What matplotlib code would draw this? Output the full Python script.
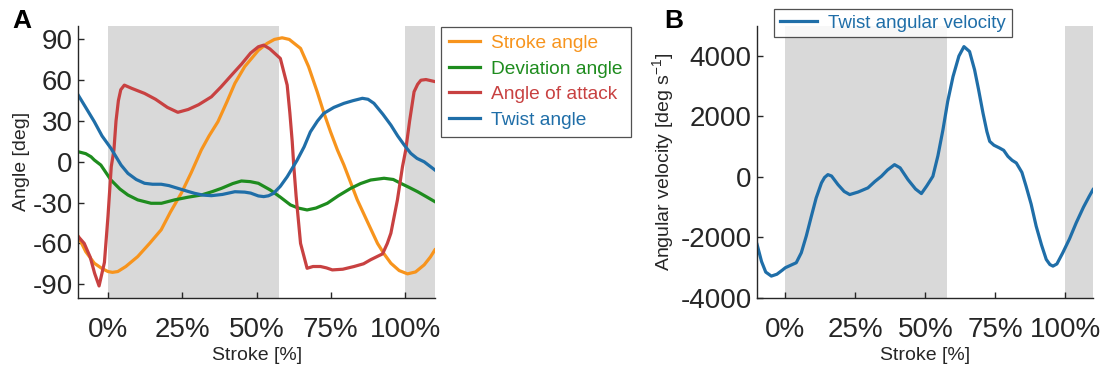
import matplotlib
matplotlib.use('Agg')
import matplotlib.pyplot as plt

plt.rcParams['font.family'] = ['Liberation Sans', 'DejaVu Sans']
plt.rcParams['axes.unicode_minus'] = False

# ---- data (stroke %, value) ----
stroke_x = [-10, -7.5, -4.6, -2, 0, 1.5, 3.3, 6, 10, 14, 17.9, 21, 24.7, 28, 31.4, 34, 37, 40,
            42.7, 46, 50.6, 53.5, 56, 58.6, 61, 64.8, 67.5, 70.4, 72.5, 74.9, 77.2, 79.4, 83.9,
            87.5, 90.7, 93, 95.2, 98, 100.8, 103.5, 106.4, 108.5, 110]
stroke_y = [-55, -66, -74.6, -78.5, -80.7, -81.3, -80.7, -77, -69.7, -60, -50, -37, -23, -8, 8.7,
            19, 29.5, 44, 57.7, 70, 82, 87, 90, 91.2, 90, 83.4, 70, 51.5, 37, 22, 8.7, -2.4, -28,
            -45, -60, -68, -74.6, -80, -82.4, -81, -75.8, -70, -64.8]

dev_x = [-10, -7.5, -5.7, -4.6, -2.4, 1, 4, 6.7, 10, 14.5, 18, 22.4, 27, 31.4, 35, 38.2, 42, 44.9,
         47.9, 50.6, 54.6, 58, 61.4, 64, 67, 70, 73.8, 77.5, 81.7, 85, 88.4, 92.9, 96, 98.5,
         101.5, 104.2, 107, 110]
dev_y = [7.4, 6, 3.7, 1.3, -2.4, -13.4, -20, -24.4, -28, -30.5, -30.5, -28, -26, -24.4, -22,
         -19.5, -16, -14.1, -14.6, -15.8, -20.7, -26, -31.7, -34, -35.4, -34, -30.5, -25, -19.5,
         -16, -13.4, -12.1, -13, -15.8, -19, -22, -25.5, -29.3]

aoa_x = [-10, -8, -6, -4.5, -3, -1.2, 0, 1.1, 2, 2.7, 3.5, 4.3, 5.5, 8, 12.3, 16, 20, 23.5, 27,
         30.5, 34.8, 38, 41.6, 45, 48, 50.6, 52.4, 54.5, 56.5, 58, 60.3, 61.2, 62, 62.5, 63.3,
         64.8, 67, 69, 71.5, 73.5, 75.5, 79, 82.8, 86, 88.4, 92.4, 94, 95.2, 97.4, 99.1, 100.2,
         101.5, 103, 104.2, 105.3, 107, 109, 110]
aoa_y = [-55, -60, -70, -82, -91.3, -74, -40, -3.6, 8.7, 30, 45, 53, 56.4, 54, 50.3, 46, 40, 36.4,
         38.5, 42, 47.8, 55, 63.8, 72, 80, 84.6, 85.8, 83, 79, 76, 56.4, 36, 14.8, -2.4, -25,
         -60, -78.3, -77, -77, -78, -79.5, -79, -77, -75, -72, -67.7, -60, -52.5, -28, -3.6,
         8.7, 30, 51.5, 57, 60, 60.5, 59.5, 59]

twist_x = [-10, -7.5, -4.6, -2, 1, 4.4, 6.7, 9.5, 12.3, 15, 17.9, 20.5, 23.5, 26.5, 29.2, 32,
           34.8, 38.5, 42.7, 46, 48, 50.6, 52.4, 54, 55.7, 58, 60.3, 63.6, 66, 68.1, 70.5, 72.6,
           76, 79.4, 82.5, 85.6, 87.5, 89.5, 92.5, 95.2, 97.5, 99.7, 101.9, 104, 106.4, 108.5, 110]
twist_y = [49, 40, 29.5, 19, 9.9, -2.4, -8.5, -13, -15.8, -16.5, -16.5, -17.5, -19.5, -21.5,
           -23.2, -24.5, -24.9, -24, -22, -22.3, -23, -25.1, -25.6, -25, -23.2, -18, -11, 1, 11,
           22, 30, 35.6, 40, 43, 45, 46.7, 46, 43, 35, 27, 19, 12.3, 6.2, 2.5, 0, -3.5, -6]

omega_x = [-10.1, -8.5, -7, -5, -3, -1, 0, 2, 3.9, 5.7, 7.5, 9.3, 11, 12.9, 14, 15.2, 16.5, 18.8,
           21, 23, 26, 29.5, 32, 34.3, 36.5, 39, 41, 43.8, 46.5, 48.6, 50.5, 52.7, 54.5, 56.3,
           58, 59.9, 62, 63.8, 65.8, 67.6, 69, 70.6, 72, 73, 74.5, 76.5, 78, 79.5, 81, 82.5,
           84.5, 86, 87.8, 89.6, 91.5, 93.2, 94.5, 95.6, 97, 99.1, 101.5, 103.9, 106.5, 108.5, 109.9]
omega_y = [-2235, -2800, -3150, -3282, -3220, -3080, -3005, -2920, -2840, -2510, -1950, -1300,
           -700, -198, -20, 76, 30, -254, -480, -584, -500, -363, -150, 20, 230, 406, 300, -89,
           -400, -551, -300, 20, 700, 1562, 2500, 3322, 4000, 4312, 4150, 3543, 2900, 2113, 1500,
           1176, 1050, 958, 880, 680, 550, 462, 150, -310, -900, -1631, -2250, -2731, -2900,
           -2952, -2880, -2510, -2050, -1519, -1000, -650, -419]

shade_spans = [(0, 57.6), (100, 110)]
xticks = [0, 25, 50, 75, 100]
xticklabels = ['0%', '25%', '50%', '75%', '100%']

c_orange = '#f7941d'
c_green = '#1e8c1e'
c_red = '#c84141'
c_blue = '#1f6ea8'
txt = '#262626'

fig = plt.figure(figsize=(11.04, 3.69), dpi=100)
axA = fig.add_axes([0.0709, 0.193, 0.323, 0.737])
axB = fig.add_axes([0.686, 0.193, 0.3043, 0.737])


def style(ax):
    for s in ['top', 'right']:
        ax.spines[s].set_visible(False)
    for s in ['left', 'bottom']:
        ax.spines[s].set_color(txt)
        ax.spines[s].set_linewidth(1.0)
    ax.tick_params(direction='in', length=4, width=1.0, colors=txt, labelsize=20, pad=4)
    ax.tick_params(axis='x', pad=14)
    ax.set_xlim(-10, 110)
    ax.set_xticks(xticks)
    ax.set_xticklabels(xticklabels)
    for a, b in shade_spans:
        ax.axvspan(a, b, color='#d9d9d9', lw=0, zorder=0)
    ax.set_xlabel('Stroke [%]', fontsize=14, color=txt)
    ax.xaxis.set_label_coords(0.5, -0.18)


lw = 2.3
axA.plot(stroke_x, stroke_y, color=c_orange, lw=lw, label='Stroke angle')
axA.plot(dev_x, dev_y, color=c_green, lw=lw, label='Deviation angle')
axA.plot(aoa_x, aoa_y, color=c_red, lw=lw, label='Angle of attack')
axA.plot(twist_x, twist_y, color=c_blue, lw=lw, label='Twist angle')
style(axA)
axA.set_ylim(-100, 100)
axA.set_yticks([-90, -60, -30, 0, 30, 60, 90])
axA.set_ylabel('Angle [deg]', fontsize=14, color=txt)
axA.yaxis.set_label_coords(-0.135, 0.5)
legA = axA.legend(loc='upper left', bbox_to_anchor=(441 / 1104, 1 - 26.7 / 369),
                  bbox_transform=fig.transFigure, borderaxespad=0, fontsize=13.8, frameon=True,
                  fancybox=False, handlelength=1.6, handletextpad=0.6, labelspacing=0.42,
                  borderpad=0.42, labelcolor='linecolor', edgecolor=txt)
legA.get_frame().set_linewidth(0.9)

axB.plot(omega_x, omega_y, color=c_blue, lw=lw, label='Twist angular velocity')
style(axB)
axB.set_ylim(-4000, 5000)
axB.set_yticks([-4000, -2000, 0, 2000, 4000])
axB.set_ylabel('Angular velocity [deg s$^{\\mathregular{-1}}$]', fontsize=14, color=txt)
axB.yaxis.set_label_coords(-0.24, 0.5)
legB = axB.legend(loc='upper left', bbox_to_anchor=(774 / 1104, 1 - 9 / 369),
                  bbox_transform=fig.transFigure, borderaxespad=0, fontsize=13.5, frameon=True,
                  fancybox=False, handlelength=2.0, handletextpad=0.6, borderpad=0.3,
                  labelcolor='linecolor', edgecolor=txt)
legB.get_frame().set_linewidth(0.9)

fig.text(0.011, 0.975, 'A', fontsize=19, fontweight='bold', va='top', ha='left')
fig.text(0.602, 0.975, 'B', fontsize=19, fontweight='bold', va='top', ha='left')

fig.savefig('out.png', dpi=100)
